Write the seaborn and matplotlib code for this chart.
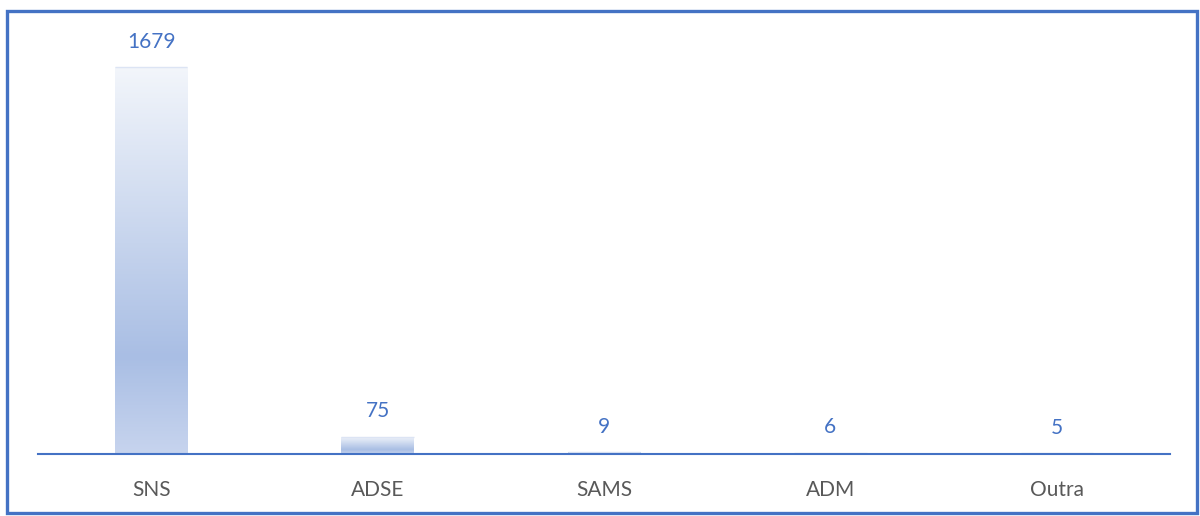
import numpy as np
import pandas as pd
import matplotlib
matplotlib.use("Agg")
import matplotlib.pyplot as plt
import seaborn as sns
from matplotlib.colors import LinearSegmentedColormap
from matplotlib.patches import Rectangle

categories = ["SNS", "ADSE", "SAMS", "ADM", "Outra"]
values = [1679, 75, 9, 6, 5]

sns.set_theme(style="white")
plt.rcParams['font.family'] = ['Lato', 'DejaVu Sans']

df = pd.DataFrame({"cat": categories, "val": values})

fig = plt.figure(figsize=(12, 5.16), dpi=100)
ax = fig.add_axes([38/1200, (516-454)/516, 1132/1200, 415/516])
sns.barplot(data=df, x="cat", y="val", ax=ax, width=0.32, color="#A9BEE4",
            edgecolor="none", saturation=1)
ax.set_ylim(0, 1800)

# gradient fill per bar
cmap = LinearSegmentedColormap.from_list(
    "g", [(0.0, "#C7D4EE"), (0.25, "#A9BEE4"), (1.0, "#F3F6FB")])
grad = np.linspace(0, 1, 256).reshape(-1, 1)
for p in ax.patches:
    x0, y0 = p.get_x(), p.get_y()
    w, h = p.get_width(), p.get_height()
    if h <= 0:
        continue
    p.set_facecolor("none")
    im = ax.imshow(grad, extent=[x0, x0 + w, y0, y0 + h], origin="lower",
                   cmap=cmap, aspect="auto", zorder=2)
    im.set_clip_path(p)
    ax.plot([x0, x0 + w], [y0 + h, y0 + h], color="#DCE4F4", lw=1.0,
            zorder=2.5, solid_capstyle="butt")
ax.set_xlim(-0.5, len(categories) - 0.5)
ax.set_ylim(0, 1800)

for i, v in enumerate(values):
    ax.annotate(str(v), (i, v), xytext=(0, 11), textcoords="offset points",
                ha="center", va="bottom", color="#4472C4", fontsize=15)

ax.set_xlabel("")
ax.set_ylabel("")
ax.set_yticks([])
ax.tick_params(axis="x", length=0, pad=19, labelsize=15, labelcolor="#595959")
for s in ["top", "left", "right"]:
    ax.spines[s].set_visible(False)
ax.spines["bottom"].set_color("#4472C4")
ax.spines["bottom"].set_linewidth(1.5)

fig.patches.append(Rectangle((6.5/1200, (516-513)/516), 1190/1200, 502/516,
                             transform=fig.transFigure, fill=False,
                             edgecolor="#4472C4", linewidth=2.4))

fig.savefig("out.png", dpi=100)
